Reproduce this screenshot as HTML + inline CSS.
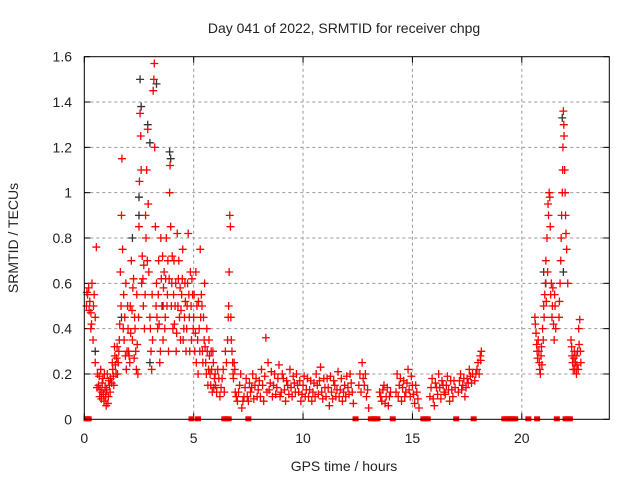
<!DOCTYPE html>
<html><head><meta charset="utf-8"><style>
body{margin:0;background:#fff;}
svg text{font-family:"Liberation Sans",sans-serif;font-size:14px;fill:#222;}
</style></head><body>
<svg id="chart" width="640" height="480" xmlns="http://www.w3.org/2000/svg">
<text x="344" y="33" text-anchor="middle">Day 041 of 2022, SRMTID for receiver chpg</text>
<text x="344" y="471" text-anchor="middle">GPS time / hours</text>
<text transform="translate(18,238) rotate(-90)" text-anchor="middle">SRMTID / TECUs</text>
<g id="grid"></g>
<g id="axes"></g>
<g id="marks"></g>
<rect x="84.3" y="56.7" width="525" height="362.6" fill="none" stroke="#000" stroke-width="1"/>
</svg>
<script>
const xTicks=[0,5,10,15,20];
const yTicks=[0,0.2,0.4,0.6,0.8,1,1.2,1.4,1.6];
const yTickLabels=["0","0.2","0.4","0.6","0.8","1","1.2","1.4","1.6"];
const blackPoints=[[2.5,0.98],[2.5,0.9],[2.55,1.5],[2.6,1.38],[2.9,1.3],[3.0,1.22],[3.3,1.48],[3.9,1.18],[3.95,1.15],[2.2,0.8],[1.7,0.45],[3.0,0.25],[21.0,0.65],[21.1,0.6],[21.85,1.33],[21.9,0.65],[0.5,0.3],[3.6,0.5]];
const redPoints=[
[0.1,0.5],[0.15,0.55],[0.2,0.58],[0.25,0.52],[0.3,0.47],[0.35,0.6],[0.3,0.4],[0.4,0.35],[0.45,0.55],[0.5,0.25],[0.55,0.76],[0.5,0.45],[0.6,0.2],[0.65,0.15],[0.7,0.1],[0.75,0.22],[0.8,0.12],[0.85,0.18],[0.9,0.08],[0.95,0.14],[1.0,0.06],[1.05,0.2],[1.1,0.1],[1.15,0.15],[1.2,0.18],[1.3,0.22],[1.35,0.15],[1.4,0.28],[1.45,0.2],[1.5,0.32],[1.55,0.25],[1.6,0.35],
[1.65,0.65],[1.7,0.9],[1.72,1.15],[1.75,0.75],[1.8,0.55],[1.85,0.45],[1.9,0.6],[1.95,0.3],[2.0,0.4],[2.05,0.28],[2.1,0.5],[2.15,0.7],[2.2,0.35],[2.25,0.62],[2.3,0.45],[2.35,0.3],[2.4,0.55],[2.45,0.2],[2.5,0.85],[2.52,1.05],[2.55,1.35],[2.58,1.25],[2.6,1.1],[2.62,0.6],[2.65,0.72],[2.7,0.5],[2.75,0.4],[2.8,0.9],[2.85,1.1],[2.9,1.28],[2.92,0.95],[2.95,0.65],[3.0,0.45],[3.05,0.3],[3.1,0.55],[3.15,1.45],[3.18,1.5],[3.2,1.57],[3.22,1.2],[3.25,0.85],[3.3,0.6],[3.35,0.4],[3.4,0.7],[3.45,0.25],[3.5,0.8],[3.55,0.5],[3.6,0.35],[3.65,0.65],[3.7,0.45],[3.75,0.8],[3.8,0.55],[3.85,0.3],[3.9,1.0],[3.92,1.12],[3.95,0.85],[4.0,0.6],[4.05,0.4],[4.1,0.7],[4.15,0.5],[4.2,0.3],[4.25,0.82],[4.3,0.62],[4.35,0.45],[4.4,0.35],[4.45,0.55],[4.5,0.75],[4.55,0.4],[4.6,0.6],[4.65,0.3],[4.7,0.5],[4.75,0.82],[4.8,0.45],[4.85,0.65],[4.9,0.35],[4.95,0.55],
[5.0,0.45],[5.05,0.3],[5.1,0.65],[5.15,0.5],[5.2,0.2],[5.25,0.4],[5.3,0.75],[5.35,0.55],[5.4,0.3],[5.45,0.45],[5.5,0.6],[5.55,0.25],[5.6,0.4],[5.65,0.15],[5.7,0.35],[5.75,0.2],[5.8,0.3],[5.85,0.12],[5.9,0.25],[5.95,0.18],[6.0,0.15],[6.1,0.22],[6.2,0.1],[6.3,0.18],[6.4,0.12],[6.5,0.25],[6.55,0.35],[6.6,0.5],[6.62,0.65],[6.65,0.9],[6.68,0.85],[6.7,0.45],[6.75,0.3],[6.8,0.2],[6.85,0.25],[6.9,0.12],[7.0,0.08],[7.1,0.15],[7.2,0.05],[7.3,0.1],[7.4,0.18],[7.5,0.08],[7.6,0.12],[7.7,0.2],[7.8,0.15],[7.9,0.1],[8.0,0.17],[8.1,0.22],[8.2,0.08],[8.3,0.36],[8.35,0.12],[8.4,0.25],[8.5,0.16],[8.6,0.1],[8.7,0.2],[8.8,0.14],[8.9,0.24],[9.0,0.12],[9.1,0.18],[9.2,0.08],[9.3,0.15],[9.4,0.22],[9.5,0.1],[9.6,0.16],[9.7,0.2],[9.8,0.12],[9.9,0.08],[10.0,0.15],[10.1,0.1],[10.2,0.18],[10.3,0.13],[10.4,0.08],[10.5,0.16],[10.6,0.2],[10.7,0.11],[10.8,0.23],[10.9,0.09],[11.0,0.14],[11.1,0.18],[11.2,0.06],[11.3,0.12],[11.4,0.17],[11.5,0.1],[11.6,0.21],[11.7,0.13],[11.8,0.08],[11.9,0.15],[12.0,0.19],[12.1,0.11],[12.2,0.16],[12.3,0.07],[12.6,0.2],[12.7,0.25],[12.8,0.15],[12.9,0.1],[13.0,0.05],[13.5,0.12],[13.6,0.08],[13.7,0.15],[13.8,0.1],[13.9,0.06],[14.0,0.12],[14.3,0.2],[14.4,0.15],[14.5,0.08],[14.6,0.17],[14.7,0.12],[14.8,0.22],[14.9,0.1],[15.0,0.15],[15.1,0.07],[15.2,0.12],[15.3,0.05],[15.8,0.1],[15.9,0.18],[16.0,0.06],[16.1,0.14],[16.2,0.2],[16.3,0.09],[16.4,0.15],[16.5,0.11],[16.6,0.19],[16.7,0.08],[16.8,0.13],[16.9,0.17],[17.1,0.12],[17.2,0.2],[17.3,0.15],[17.4,0.1],[17.5,0.18],[17.6,0.22],[17.7,0.16],[17.9,0.2],[18.0,0.25],[18.1,0.28],[18.15,0.3],
[20.6,0.45],[20.65,0.38],[20.7,0.3],[20.75,0.35],[20.8,0.25],[20.85,0.2],[20.9,0.32],[20.95,0.4],[21.0,0.5],[21.05,0.55],[21.1,0.7],[21.15,0.8],[21.2,0.95],[21.25,1.0],[21.3,0.85],[21.35,0.6],[21.4,0.5],[21.45,0.42],[21.5,0.55],[21.55,0.4],[21.7,0.45],[21.75,0.6],[21.8,0.8],[21.85,1.0],[21.88,1.2],[21.9,1.36],[21.93,1.25],[21.96,1.1],[22.0,0.9],[22.05,0.75],[22.1,0.6],[22.25,0.35],[22.3,0.28],[22.35,0.22],[22.4,0.3],[22.45,0.25],[22.5,0.2],[22.55,0.3],[22.6,0.4],[22.65,0.44],[22.7,0.25]];
const redPointsExtra=[
[0.12,0.56],[0.22,0.48],[0.33,0.42],[0.42,0.5],[0.58,0.14],[0.68,0.19],[0.72,0.13],[0.78,0.09],[0.82,0.16],[0.88,0.11],[0.92,0.2],[0.98,0.1],[1.02,0.13],[1.08,0.07],[1.12,0.17],[1.18,0.12],[1.25,0.16],[1.28,0.25],[1.33,0.19],[1.38,0.32],[1.42,0.24],[1.48,0.27],[1.52,0.2],[1.58,0.3],[1.62,0.42],[1.68,0.5],[1.78,0.4],[1.82,0.35],[1.88,0.28],[1.92,0.22],[1.98,0.5],[2.02,0.3],[2.08,0.25],[2.12,0.38],[2.18,0.48],[2.22,0.58],[2.28,0.27],[2.32,0.4],[2.38,0.22],[2.42,0.33],[2.48,0.45],[2.68,0.62],[2.72,0.68],[2.78,0.55],[2.82,0.8],[2.88,0.7],[3.02,0.4],[3.08,0.22],[3.12,0.35],[3.28,0.5],[3.32,0.45],[3.38,0.55],[3.42,0.42],[3.48,0.3],[3.52,0.62],[3.58,0.72],[3.62,0.58],[3.68,0.4],[3.72,0.62],[3.78,0.5],[3.82,0.7],[3.88,0.62],[3.98,0.5],[4.02,0.72],[4.08,0.55],[4.12,0.42],[4.18,0.6],[4.22,0.38],[4.28,0.5],[4.32,0.7],[4.38,0.58],[4.42,0.48],[4.48,0.62],[4.52,0.35],[4.58,0.45],[4.62,0.52],[4.68,0.4],[4.72,0.6],[4.78,0.55],[4.82,0.3],[4.88,0.5],[4.92,0.62],[4.98,0.4],[5.02,0.55],[5.08,0.38],[5.12,0.25],[5.18,0.35],[5.22,0.52],[5.28,0.3],[5.32,0.45],[5.38,0.5],[5.42,0.25],[5.48,0.35],[5.52,0.32],[5.58,0.2],[5.62,0.3],[5.68,0.22],[5.72,0.28],[5.78,0.15],[5.82,0.22],[5.88,0.3],[5.92,0.14],[5.98,0.2],[6.05,0.12],[6.15,0.18],[6.25,0.14],[6.35,0.22],[6.45,0.3],[6.58,0.45],[6.72,0.35],[6.78,0.25],[6.82,0.18],[6.88,0.22],[6.95,0.1],[7.05,0.12],[7.15,0.2],[7.25,0.08],[7.35,0.14],[7.45,0.1],[7.55,0.16],[7.65,0.14],[7.75,0.09],[7.85,0.18],[7.95,0.13],[8.05,0.1],[8.15,0.15],[8.25,0.19],[8.45,0.13],[8.55,0.21],[8.65,0.15],[8.75,0.11],[8.85,0.18],[8.95,0.1],[9.05,0.2],[9.15,0.13],[9.25,0.17],[9.35,0.11],[9.45,0.14],[9.55,0.19],[9.65,0.12],[9.75,0.15],[9.85,0.17],[9.95,0.11],[10.05,0.19],[10.15,0.13],[10.25,0.1],[10.35,0.17],[10.45,0.12],[10.55,0.1],[10.65,0.15],[10.75,0.17],[10.85,0.12],[10.95,0.18],[11.05,0.1],[11.15,0.14],[11.25,0.19],[11.35,0.09],[11.45,0.15],[11.55,0.13],[11.65,0.1],[11.75,0.18],[11.85,0.12],[11.95,0.1],[12.05,0.14],[12.15,0.2],[12.25,0.12],[12.55,0.15],[12.65,0.12],[12.75,0.18],[12.85,0.2],[12.95,0.13],[13.55,0.1],[13.65,0.13],[13.75,0.07],[13.85,0.14],[13.95,0.1],[14.25,0.12],[14.35,0.1],[14.45,0.18],[14.55,0.14],[14.65,0.1],[14.75,0.16],[14.85,0.13],[14.95,0.19],[15.05,0.11],[15.15,0.15],[15.25,0.09],[15.85,0.14],[15.95,0.09],[16.05,0.16],[16.15,0.11],[16.25,0.14],[16.35,0.17],[16.45,0.12],[16.55,0.15],[16.65,0.13],[16.75,0.17],[16.85,0.1],[16.95,0.14],[17.15,0.17],[17.25,0.13],[17.35,0.18],[17.45,0.14],[17.55,0.16],[17.65,0.19],[17.75,0.2],[17.85,0.17],[17.95,0.22],[18.05,0.2],[18.12,0.26],
[20.62,0.42],[20.68,0.33],[20.72,0.27],[20.78,0.3],[20.82,0.22],[20.88,0.28],[20.92,0.24],[20.98,0.35],[21.02,0.45],[21.08,0.6],[21.12,0.52],[21.18,0.65],[21.22,0.9],[21.28,0.98],[21.32,0.55],[21.38,0.45],[21.42,0.58],[21.48,0.35],[21.52,0.5],[21.72,0.52],[21.78,0.7],[21.82,0.9],[21.87,1.1],[21.92,1.3],[21.98,1.0],[22.02,0.82],[22.28,0.32],[22.32,0.25],[22.38,0.27],[22.42,0.22],[22.48,0.28],[22.52,0.24],[22.58,0.22],[22.62,0.33],[22.68,0.3]];
const zeroTimes=[0.1,0.15,0.2,4.9,5.2,6.4,6.5,6.6,7.5,12.4,13.1,13.2,13.3,13.4,14.1,15.5,15.6,15.7,17.0,17.8,19.2,19.3,19.4,19.5,19.6,19.7,20.3,20.7,21.6,22.0,22.1,22.2];
const X0=84.3,XW=525,XMAX=24,Y0=419.3,YH=362.6,YMAX=1.6;
function sx(t){return X0+t/XMAX*XW;}
function sy(v){return Y0-v/YMAX*YH;}
const NS="http://www.w3.org/2000/svg";
function mk(tag,attrs,parent){const e=document.createElementNS(NS,tag);for(const k in attrs)e.setAttribute(k,attrs[k]);parent.appendChild(e);return e;}
const grid=document.getElementById('grid'),axes=document.getElementById('axes'),marks=document.getElementById('marks');
xTicks.forEach(t=>{const x=sx(t);
 if(t>0){const g=mk('line',{x1:x,x2:x,y1:56.7,y2:Y0,stroke:'#999','stroke-dasharray':'3,3'},grid);}
 mk('line',{x1:x,x2:x,y1:Y0,y2:Y0-6,stroke:'#000'},axes);mk('line',{x1:x,x2:x,y1:56.7,y2:62.7,stroke:'#000'},axes);
 const l=mk('text',{x:x,y:443,'text-anchor':'middle'},axes);l.textContent=t;
 
 
});
yTicks.forEach((v,i)=>{const y=sy(v);
 if(v>0&&v<YMAX){const g=mk('line',{x1:X0,x2:X0+XW,y1:y,y2:y,stroke:'#999','stroke-dasharray':'3,3'},grid);}
 mk('line',{x1:X0,x2:X0+6,y1:y,y2:y,stroke:'#000'},axes);mk('line',{x1:X0+XW-6,x2:X0+XW,y1:y,y2:y,stroke:'#000'},axes);
 const l=mk('text',{x:72,y:y+5,'text-anchor':'end'},axes);l.textContent=yTickLabels[i];
 
 
});
function plus(t,v,col,name){const x=sx(t),y=sy(v);
 const p=mk('path',{d:`M${x-4},${y}h8M${x},${y-4}v8`,stroke:col,'stroke-width':1.3,fill:'none'},marks);
 
 
}
blackPoints.forEach(p=>plus(p[0],p[1],'#333','point-black'));
redPoints.forEach(p=>plus(p[0],p[1],'#f00','point-red'));
redPointsExtra.forEach(p=>plus(p[0],p[1],'#f00','point-red'));
zeroTimes.forEach(t=>{const r=mk('rect',{x:sx(t)-3,y:Y0-3,width:6,height:5,fill:'#f00'},marks);
 
 
});
</script>
</body></html>
